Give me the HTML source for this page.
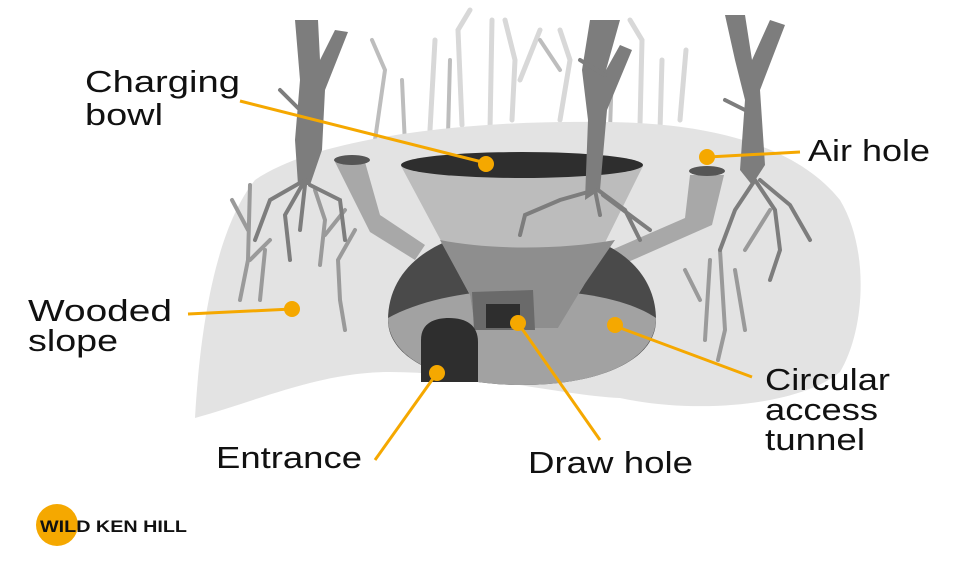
<!DOCTYPE html>
<html><head><meta charset="utf-8"><style>
html,body{margin:0;padding:0;background:#fff;width:965px;height:575px;overflow:hidden}
svg{display:block}
text{font-family:"Liberation Sans",sans-serif}
</style></head><body>
<svg width="965" height="575" viewBox="0 0 965 575" xmlns="http://www.w3.org/2000/svg">
<g stroke="#d8d8d8" stroke-width="5" fill="none" stroke-linecap="round">
<path d="M430 130 L435 40 M462 125 L458 30 L470 10 M490 130 L492 20 M512 120 L515 60 L505 20 M520 80 L540 30 M640 125 L642 40 L630 20 M660 130 L662 60 M680 120 L686 50 M560 120 L570 60 L560 30"/>
</g>
<g stroke="#bdbdbd" stroke-width="4" fill="none" stroke-linecap="round">
<path d="M375 140 L385 70 L372 40 M405 145 L402 80 M448 135 L450 60 M610 130 L612 70 M540 40 L560 70"/>
</g>
<path d="M255 180 C320 135 480 120 600 122 C720 122 800 150 840 200 C870 250 865 330 840 372 C800 405 700 415 620 398 C560 395 470 372 390 372 C320 372 260 400 195 418 C200 330 215 230 255 180 Z" fill="#e3e3e3"/>
<g stroke="#9a9a9a" stroke-width="4" fill="none" stroke-linecap="round">
<path d="M250 185 L248 260 L240 300 M248 230 L232 200 M250 260 L270 240 M260 300 L265 250 M320 265 L325 220 L315 190 M325 235 L345 210 M340 300 L338 260 L355 230 M345 330 L340 300"/>
<path d="M710 260 L705 340 M720 250 L725 330 L718 360 M735 270 L745 330 M745 250 L770 210 M700 300 L685 270"/>
</g>
<path d="M335 162 L365 162 L380 215 L425 245 L415 260 L370 232 Z" fill="#a8a8a8"/>
<path d="M690 175 L724 175 L712 225 L610 270 L600 255 L685 218 Z" fill="#a8a8a8"/>
<ellipse cx="352" cy="160" rx="18" ry="5" fill="#555"/>
<ellipse cx="707" cy="171" rx="18" ry="5" fill="#555"/>
<path d="M388 320 C388 265 440 228 522 228 C605 228 656 265 656 320 C656 360 600 385 522 385 C445 385 388 360 388 320 Z" fill="#4a4a4a"/>
<path d="M388 318 C420 300 470 290 522 290 C580 290 630 300 656 318 C656 360 600 385 522 385 C445 385 388 360 388 318 Z" fill="#a2a2a2"/>
<path d="M401 166 L643 166 L584 285 L558 328 L475 328 L470 295 Z" fill="#bcbcbc"/>
<path d="M440 240 C490 250 560 250 615 240 L584 285 L558 328 L475 328 L470 295 Z" fill="#8e8e8e"/>
<ellipse cx="522" cy="165" rx="121" ry="13" fill="#2e2e2e"/>
<path d="M472 292 L533 290 L535 330 L474 330 Z" fill="#6a6a6a"/>
<rect x="486" y="304" width="34" height="24" fill="#2e2e2e"/>
<path d="M421 382 L421 340 C421 322 436 318 449 318 C466 318 478 325 478 342 L478 382 Z" fill="#2e2e2e"/>
<g fill="#7d7d7d">
<path d="M295 20 L318 20 L320 60 L335 30 L348 32 L325 90 L322 150 L310 185 L298 185 L295 140 L300 80 Z"/>
<path d="M590 20 L620 20 L606 70 L620 45 L632 50 L607 110 L600 190 L585 200 L588 120 L582 70 Z"/>
<path d="M725 15 L745 15 L752 60 L770 20 L785 25 L760 90 L765 165 L752 185 L740 170 L745 100 L735 60 Z"/>
</g>
<g stroke="#7d7d7d" stroke-width="4" fill="none" stroke-linecap="round">
<path d="M305 180 L270 200 L255 240 M305 180 L285 215 L290 260 M310 185 L340 200 L345 240 M305 185 L300 230 M300 110 L280 90"/>
<path d="M595 190 L560 200 L525 215 L520 235 M595 190 L600 215 M598 190 L625 210 L640 240 M603 195 L650 230 M605 75 L580 60"/>
<path d="M755 180 L735 210 L720 250 M755 180 L775 210 L780 250 L770 280 M760 180 L790 205 L810 240 M745 110 L725 100"/>
</g>
<g stroke="#f5a800" stroke-width="3" fill="none">
<path d="M240 101 L486 163"/><path d="M800 152 L708 157"/><path d="M188 314 L292 309"/>
<path d="M375 460 L437 373"/><path d="M600 440 L518 323"/><path d="M752 377 L615 326"/>
</g>
<g fill="#f5a800">
<circle cx="486" cy="164" r="8"/><circle cx="707" cy="157" r="8"/><circle cx="292" cy="309" r="8"/>
<circle cx="437" cy="373" r="8"/><circle cx="518" cy="323" r="8"/><circle cx="615" cy="325" r="8"/>
</g>
<g font-size="31" fill="#111" lengthAdjust="spacingAndGlyphs">
<text x="85" y="92" textLength="155" lengthAdjust="spacingAndGlyphs">Charging</text>
<text x="85" y="125" textLength="78" lengthAdjust="spacingAndGlyphs">bowl</text>
<text x="808" y="161" textLength="122" lengthAdjust="spacingAndGlyphs">Air hole</text>
<text x="28" y="321" textLength="144" lengthAdjust="spacingAndGlyphs">Wooded</text>
<text x="28" y="351" textLength="90" lengthAdjust="spacingAndGlyphs">slope</text>
<text x="216" y="468" textLength="146" lengthAdjust="spacingAndGlyphs">Entrance</text>
<text x="528" y="473" textLength="165" lengthAdjust="spacingAndGlyphs">Draw hole</text>
<text x="765" y="390" textLength="125" lengthAdjust="spacingAndGlyphs">Circular</text>
<text x="765" y="420" textLength="113" lengthAdjust="spacingAndGlyphs">access</text>
<text x="765" y="450" textLength="100" lengthAdjust="spacingAndGlyphs">tunnel</text>
</g>
<circle cx="57" cy="525" r="21" fill="#f5a800"/>
<text x="40" y="532" font-size="17" font-weight="bold" fill="#111" textLength="147" lengthAdjust="spacingAndGlyphs">WILD KEN HILL</text>
</svg>
</body></html>
